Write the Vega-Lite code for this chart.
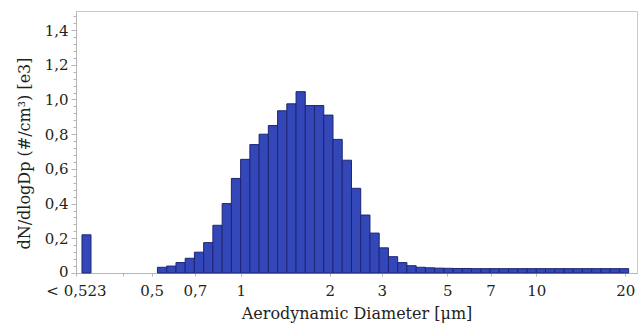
{
  "$schema": "https://vega.github.io/schema/vega-lite/v6.json",
  "width": 561,
  "height": 262,
  "autosize": "none",
  "padding": {"left": 76, "top": 11, "right": 2, "bottom": 53},
  "background": "white",
  "config": {
    "view": {"stroke": "#c9c9c9", "strokeWidth": 1},
    "font": "DejaVu Serif"
  },
  "data": {
    "values": [
      {"lo": 0.2905, "hi": 0.3117, "v": 0.22},
      {"lo": 0.523, "hi": 0.562, "v": 0.033},
      {"lo": 0.562, "hi": 0.604, "v": 0.04},
      {"lo": 0.604, "hi": 0.649, "v": 0.06},
      {"lo": 0.649, "hi": 0.6974, "v": 0.085},
      {"lo": 0.6974, "hi": 0.7495, "v": 0.12},
      {"lo": 0.7495, "hi": 0.8054, "v": 0.175},
      {"lo": 0.8054, "hi": 0.8655, "v": 0.275},
      {"lo": 0.8655, "hi": 0.93, "v": 0.4},
      {"lo": 0.93, "hi": 0.9994, "v": 0.545},
      {"lo": 0.9994, "hi": 1.074, "v": 0.655},
      {"lo": 1.074, "hi": 1.1541, "v": 0.74},
      {"lo": 1.1541, "hi": 1.2402, "v": 0.8},
      {"lo": 1.2402, "hi": 1.3328, "v": 0.85},
      {"lo": 1.3328, "hi": 1.4322, "v": 0.935},
      {"lo": 1.4322, "hi": 1.539, "v": 0.975},
      {"lo": 1.539, "hi": 1.6539, "v": 1.045},
      {"lo": 1.6539, "hi": 1.7772, "v": 0.965},
      {"lo": 1.7772, "hi": 1.9098, "v": 0.965},
      {"lo": 1.9098, "hi": 2.0523, "v": 0.91},
      {"lo": 2.0523, "hi": 2.2054, "v": 0.77},
      {"lo": 2.2054, "hi": 2.37, "v": 0.65},
      {"lo": 2.37, "hi": 2.5468, "v": 0.488},
      {"lo": 2.5468, "hi": 2.7368, "v": 0.334},
      {"lo": 2.7368, "hi": 2.941, "v": 0.23},
      {"lo": 2.941, "hi": 3.1604, "v": 0.145},
      {"lo": 3.1604, "hi": 3.3962, "v": 0.094},
      {"lo": 3.3962, "hi": 3.6495, "v": 0.06},
      {"lo": 3.6495, "hi": 3.9218, "v": 0.042},
      {"lo": 3.9218, "hi": 4.2144, "v": 0.033},
      {"lo": 4.2144, "hi": 4.5288, "v": 0.03},
      {"lo": 4.5288, "hi": 4.8667, "v": 0.028},
      {"lo": 4.8667, "hi": 5.2298, "v": 0.027},
      {"lo": 5.2298, "hi": 5.6199, "v": 0.026},
      {"lo": 5.6199, "hi": 6.0392, "v": 0.026},
      {"lo": 6.0392, "hi": 6.4898, "v": 0.025},
      {"lo": 6.4898, "hi": 6.9739, "v": 0.025},
      {"lo": 6.9739, "hi": 7.4942, "v": 0.025},
      {"lo": 7.4942, "hi": 8.0533, "v": 0.025},
      {"lo": 8.0533, "hi": 8.6542, "v": 0.025},
      {"lo": 8.6542, "hi": 9.2998, "v": 0.025},
      {"lo": 9.2998, "hi": 9.9936, "v": 0.025},
      {"lo": 9.9936, "hi": 10.7392, "v": 0.025},
      {"lo": 10.7392, "hi": 11.5404, "v": 0.025},
      {"lo": 11.5404, "hi": 12.4014, "v": 0.025},
      {"lo": 12.4014, "hi": 13.3266, "v": 0.025},
      {"lo": 13.3266, "hi": 14.3208, "v": 0.025},
      {"lo": 14.3208, "hi": 15.3893, "v": 0.025},
      {"lo": 15.3893, "hi": 16.5374, "v": 0.025},
      {"lo": 16.5374, "hi": 17.7712, "v": 0.025},
      {"lo": 17.7712, "hi": 19.097, "v": 0.025},
      {"lo": 19.097, "hi": 20.5218, "v": 0.025}
    ]
  },
  "mark": {"type": "bar", "fill": "#3447b8", "stroke": "#1c2674", "strokeWidth": 1},
  "encoding": {
    "x": {
      "field": "lo",
      "type": "quantitative",
      "scale": {"type": "log", "domain": [0.2773, 21.9], "nice": false},
      "axis": {
        "values": [0.2773, 0.4, 0.5, 0.7, 1, 2, 3, 5, 7, 10, 20],
        "labelExpr": "datum.value < 0.3 ? '< 0,523' : (datum.value == 0.4 ? '' : replace(toString(datum.value), '.', ','))",
        "grid": false,
        "tickSize": 3,
        "domainColor": "#b5b5b5",
        "tickColor": "#b5b5b5",
        "labelFont": "DejaVu Serif",
        "labelFontSize": 15,
        "labelColor": "#231f20",
        "labelPadding": 7,
        "labelFlush": false,
        "labelOverlap": false,
        "title": "Aerodynamic Diameter [μm]",
        "titleFont": "DejaVu Serif",
        "titleFontSize": 16,
        "titleFontWeight": "normal",
        "titleColor": "#231f20",
        "titleBaseline": "alphabetic",
        "titleY": 45
      }
    },
    "x2": {"field": "hi"},
    "y": {
      "field": "v",
      "type": "quantitative",
      "scale": {"domain": [0, 1.51], "nice": false},
      "axis": {
        "values": [0, 0.04, 0.08, 0.12, 0.16, 0.2, 0.24, 0.28, 0.32, 0.36, 0.4, 0.44, 0.48, 0.52, 0.56, 0.6, 0.64, 0.68, 0.72, 0.76, 0.8, 0.84, 0.88, 0.92, 0.96, 1.0, 1.04, 1.08, 1.12, 1.16, 1.2, 1.24, 1.28, 1.32, 1.36, 1.4, 1.44, 1.48],
        "labelExpr": "abs(datum.value * 5 - round(datum.value * 5)) < 0.001 ? (datum.value == 0 ? '0' : replace(format(datum.value, '.1f'), '.', ',')) : ''",
        "tickSize": {"condition": {"test": "abs(datum.value * 5 - round(datum.value * 5)) < 0.001", "value": 5}, "value": 3},
        "labelOffset": {"condition": {"test": "datum.value == 0", "value": -2}, "value": 0},
        "grid": false,
        "domainColor": "#b5b5b5",
        "tickColor": "#b5b5b5",
        "labelFont": "DejaVu Serif",
        "labelFontSize": 15,
        "labelColor": "#231f20",
        "labelPadding": 3,
        "labelOverlap": false,
        "title": "dN/dlogDp (#/cm³) [e3]",
        "titleFont": "DejaVu Serif",
        "titleFontSize": 16,
        "titleFontWeight": "normal",
        "titleColor": "#231f20",
        "titleBaseline": "alphabetic",
        "titleX": -47,
        "titleY": 142
      }
    },
    "y2": {"datum": 0}
  }
}
